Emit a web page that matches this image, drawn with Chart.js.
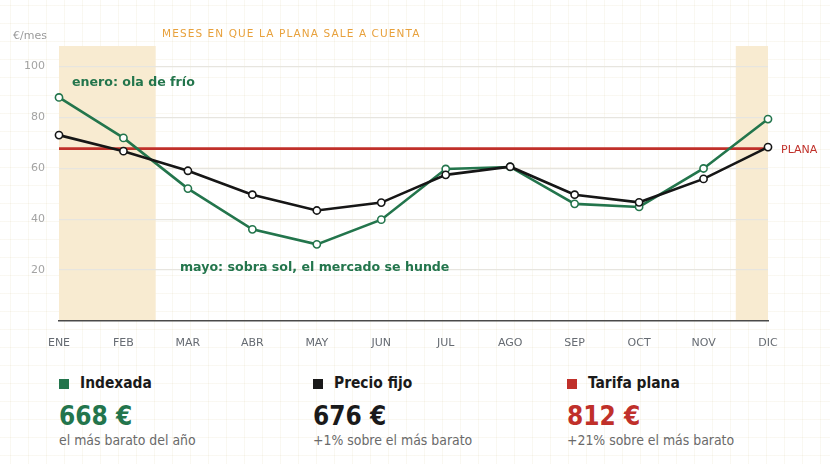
<!DOCTYPE html>
<html>
<head>
<meta charset="utf-8">
<script src="https://cdn.jsdelivr.net/npm/chart.js@4"></script>
<style>
  html, body { margin: 0; padding: 0; }
  body {
    width: 830px; height: 464px; position: relative; overflow: hidden;
    background-color: #ffffff;
    background-image:
      linear-gradient(to right, rgba(215, 200, 150, 0.13) 1px, transparent 1px),
      linear-gradient(to bottom, rgba(215, 200, 150, 0.13) 1px, transparent 1px);
    background-size: 18px 18px;
    background-position: 10px 5px;
    font-family: "DejaVu Sans", sans-serif;
  }
  #wrap { position: absolute; left: 0; top: 0; width: 830px; height: 360px; }
  .col { position: absolute; top: 0; font-family: "DejaVu Sans Condensed", "DejaVu Sans", sans-serif; font-stretch: condensed; }
  .col .sq { position: absolute; left: 0; top: 379px; width: 10px; height: 10px; }
  .col .name { position: absolute; left: 21px; top: 374px; font-size: 15.4px; font-weight: bold; color: #1a1a1a; white-space: nowrap; }
  .col .val { position: absolute; left: 0; top: 401px; font-size: 26px; font-weight: bold; white-space: nowrap; }
  .col .sub { position: absolute; left: 0; top: 432px; font-size: 13.9px; color: #6a6a6a; white-space: nowrap; }
</style>
</head>
<body>
<div id="wrap"><canvas id="chart"></canvas></div>

<div class="col" style="left:59px">
  <div class="sq" style="background:#23754c"></div>
  <div class="name">Indexada</div>
  <div class="val" style="color:#23754c">668 €</div>
  <div class="sub">el más barato del año</div>
</div>
<div class="col" style="left:313px">
  <div class="sq" style="background:#1a1a1a"></div>
  <div class="name">Precio fijo</div>
  <div class="val" style="color:#1a1a1a">676 €</div>
  <div class="sub">+1% sobre el más barato</div>
</div>
<div class="col" style="left:567px">
  <div class="sq" style="background:#c0302a"></div>
  <div class="name">Tarifa plana</div>
  <div class="val" style="color:#c0302a">812 €</div>
  <div class="sub">+21% sobre el más barato</div>
</div>

<script>
var months = ['ENE', 'FEB', 'MAR', 'ABR', 'MAY', 'JUN', 'JUL', 'AGO', 'SEP', 'OCT', 'NOV', 'DIC'];
var indexada = [87.8, 71.9, 52.0, 36.0, 30.1, 39.8, 59.7, 60.5, 46.0, 44.8, 59.9, 79.3];
var precioFijo = [73.0, 66.7, 59.0, 49.6, 43.4, 46.5, 57.4, 60.6, 49.6, 46.6, 55.8, 68.3];
var plana = [67.7, 67.7, 67.7, 67.7, 67.7, 67.7, 67.7, 67.7, 67.7, 67.7, 67.7, 67.7];
var yTicks = [20, 40, 60, 80, 100];
// months where the flat rate pays off (index ranges)
var planaWins = [[0, 1.5], [10.5, 11]];

var GREEN = '#23754c';
var BLACK = '#161616';
var RED = '#c0302a';

var extras = {
  id: 'extras',
  afterLayout: function (chart) {
    // spaced month labels on the x axis only
    var s = chart.scales.x;
    if (!s._spaced) {
      var orig = s.draw;
      s.draw = function (a) {
        chart.ctx.save();
        chart.ctx.letterSpacing = '1px';
        orig.call(s, a);
        chart.ctx.restore();
      };
      s._spaced = true;
    }
  },
  beforeDraw: function (chart) {
    var ctx = chart.ctx, area = chart.chartArea, x = chart.scales.x;
    ctx.save();
    ctx.fillStyle = '#f8ebd1';
    planaWins.forEach(function (r) {
      var x0 = x.getPixelForValue(r[0]), x1 = x.getPixelForValue(r[1]);
      ctx.fillRect(x0, area.top, x1 - x0, area.bottom - area.top);
    });
    ctx.restore();
  },
  afterDraw: function (chart) {
    var ctx = chart.ctx, y = chart.scales.y, area = chart.chartArea;
    ctx.save();
    ctx.textBaseline = 'middle';

    ctx.fillStyle = '#9a9a9a';
    ctx.font = '11px "DejaVu Sans"';
    ctx.textAlign = 'left';
    ctx.fillText('€/mes', 13, 36);

    ctx.fillStyle = '#e8a13c';
    ctx.font = '10.5px "DejaVu Sans"';
    ctx.letterSpacing = '1.1px';
    ctx.fillText('MESES EN QUE LA PLANA SALE A CUENTA', 162, 34);
    ctx.letterSpacing = '0px';

    ctx.fillStyle = RED;
    ctx.font = '11px "DejaVu Sans"';
    ctx.fillText('PLANA', area.right + 13, y.getPixelForValue(plana[11]) + 2);

    ctx.fillStyle = GREEN;
    ctx.font = 'bold 12.6px "DejaVu Sans"';
    ctx.fillText('enero: ola de frío', 72, 83);
    ctx.fillText('mayo: sobra sol, el mercado se hunde', 180, 267.5);
    ctx.restore();
  }
};

var lineStyle = function (color) {
  return {
    borderColor: color,
    borderWidth: 2.6,
    pointRadius: 3.6,
    pointBorderWidth: 1.6,
    pointBorderColor: color,
    pointBackgroundColor: '#ffffff',
    tension: 0,
    fill: false
  };
};

new Chart(document.getElementById('chart'), {
  type: 'line',
  data: {
    labels: months,
    datasets: [
      Object.assign({ label: 'Precio fijo', data: precioFijo }, lineStyle(BLACK)),
      Object.assign({ label: 'Indexada', data: indexada }, lineStyle(GREEN)),
      { label: 'Tarifa plana', data: plana, borderColor: RED, borderWidth: 2.8, pointRadius: 0, tension: 0, fill: false }
    ]
  },
  options: {
    responsive: true,
    maintainAspectRatio: false,
    animation: false,
    layout: { padding: { top: 46, right: 62, left: 0, bottom: 0 } },
    plugins: { legend: { display: false }, tooltip: { enabled: false } },
    scales: {
      x: {
        offset: false,
        grid: { display: false, drawTicks: false },
        border: { display: true, color: '#4a4a4a', width: 1.6 },
        ticks: { color: '#666b72', font: { family: 'DejaVu Sans', size: 11 }, padding: 16, maxRotation: 0, autoSkip: false },
        afterFit: function (s) { s.height = 39; }
      },
      y: {
        min: 0,
        max: 108,
        afterBuildTicks: function (s) { s.ticks = [0].concat(yTicks).map(function (v) { return { value: v }; }); },
        grid: {
          drawTicks: false,
          color: function (c) { return c.tick && c.tick.value > 0 ? '#e7e5df' : 'rgba(0,0,0,0)'; },
          lineWidth: 1.2
        },
        border: { display: false },
        ticks: {
          color: '#a3a3a3',
          font: { family: 'DejaVu Sans', size: 11 },
          padding: 14,
          callback: function (v) { return v === 0 ? '' : v; }
        },
        afterFit: function (s) { s.width = 59; }
      }
    }
  },
  plugins: [extras]
});
</script>
</body>
</html>
